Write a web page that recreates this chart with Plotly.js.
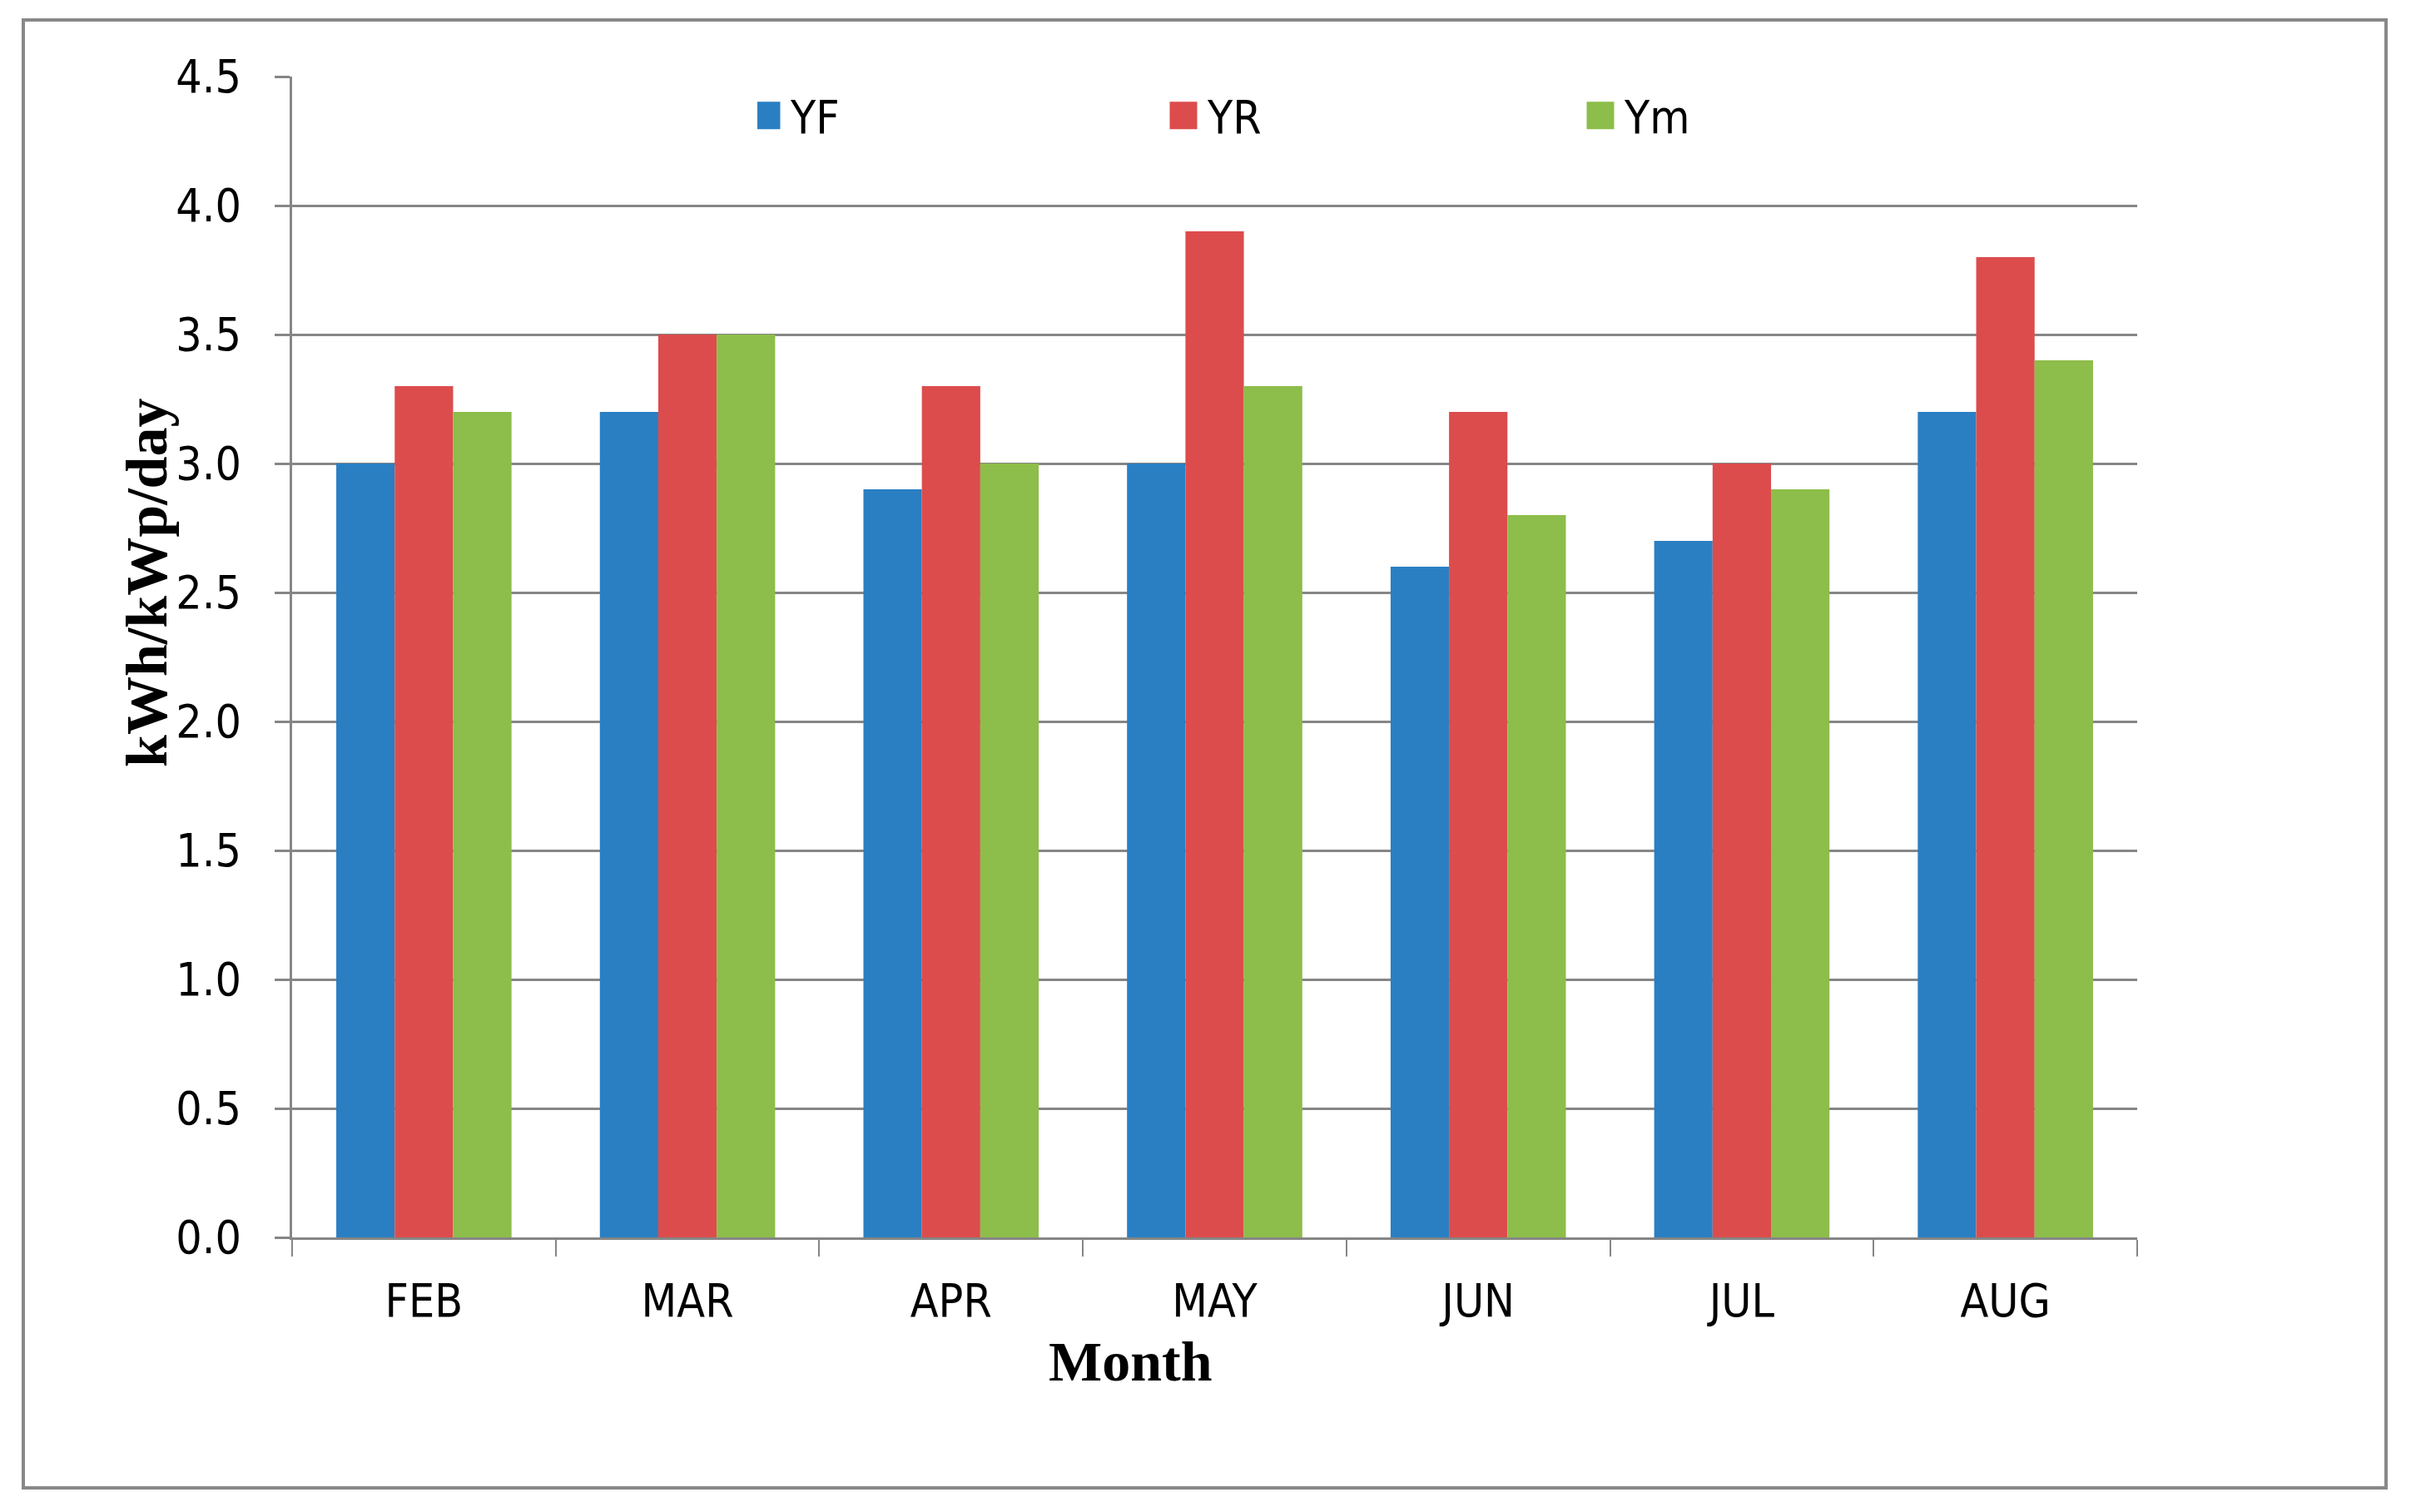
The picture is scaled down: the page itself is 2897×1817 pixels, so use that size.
<!DOCTYPE html>
<html>
<head>
<meta charset="utf-8">
<script src="https://cdn.plot.ly/plotly-3.0.1.min.js"></script>
<style>
html,body{margin:0;padding:0;background:#fff;}
#chart{width:2897px;height:1817px;}
</style>
</head>
<body>
<div id="chart"></div>
<script>
var months = ["FEB","MAR","APR","MAY","JUN","JUL","AUG"];
var seriesNames = ["YF","YR","Ym"];
var YF = [3.0, 3.2, 2.9, 3.0, 2.6, 2.7, 3.2];
var YR = [3.3, 3.5, 3.3, 3.9, 3.2, 3.0, 3.8];
var Ym = [3.2, 3.5, 3.0, 3.3, 2.8, 2.9, 3.4];
var yTicks = [0, 0.5, 1.0, 1.5, 2.0, 2.5, 3.0, 3.5, 4.0, 4.5];
var xTitle = "Month";
var yTitle = "kWh/kWp/day";

var colors = ["#2a7fc2", "#dc4c4c", "#8dbd4a"];
var values = [YF, YR, Ym];
var tickFont = "Liberation Sans Narrow, DejaVu Sans Condensed, Arial Narrow, sans-serif";

var traces = [];
for (var i = 0; i < 3; i++) {
  traces.push({
    type: "bar", x: months, y: values[i], name: seriesNames[i],
    marker: {color: colors[i], line: {width: 0}},
    showlegend: false, hoverinfo: "x+y+name"
  });
}
for (var j = 0; j < 3; j++) {
  traces.push({
    type: "scatter", mode: "markers", x: [null], y: [null], name: seriesNames[j],
    marker: {symbol: "square", size: 16, color: colors[j]},
    showlegend: true
  });
}

var L = 351, R = 2568, T = 92, B = 1487, W = 2897, H = 1817;
var pw = R - L, ph = B - T;
function px(x){ return (x - L) / pw; }
function py(y){ return (B - y) / ph; }

var layout = {
  width: W, height: H,
  paper_bgcolor: "#ffffff", plot_bgcolor: "#ffffff",
  margin: {l: L, r: W - R, t: T, b: H - B, pad: 0},
  showlegend: true,
  barmode: "group", bargap: 0.335, bargroupgap: 0,
  font: {family: tickFont, color: "#000000", size: 55},
  xaxis: {
    type: "category", showgrid: false, showline: true, linecolor: "#868686", linewidth: 3,
    ticks: "outside", tickson: "boundaries", ticklen: 20, tickwidth: 2, tickcolor: "#868686",
    tickfont: {family: tickFont, size: 55, color: "#000"}, ticklabelstandoff: 26,
    zeroline: false, fixedrange: true
  },
  yaxis: {
    range: [0, 4.5], tickvals: yTicks, tickformat: ".1f",
    showgrid: true, gridcolor: "#868686", gridwidth: 3,
    showline: true, linecolor: "#868686", linewidth: 3,
    ticks: "outside", ticklen: 18, tickwidth: 3, tickcolor: "#868686",
    tickfont: {family: tickFont, size: 55, color: "#000"}, ticklabelstandoff: 29,
    zeroline: false, fixedrange: true
  },
  legend: {
    orientation: "h", x: px(910), y: py(139), xanchor: "left", yanchor: "middle",
    entrywidth: 456, entrywidthmode: "pixels", bgcolor: "rgba(0,0,0,0)",
    font: {family: tickFont, size: 55, color: "#000"}, itemclick: false
  },
  annotations: [
    {text: xTitle, xref: "paper", yref: "paper", x: px(1358), y: py(1636),
     xanchor: "center", yanchor: "middle", showarrow: false,
     font: {family: "Liberation Serif, Times New Roman, serif", size: 68, color: "#000", weight: "bold"}},
    {text: yTitle, xref: "paper", yref: "paper", x: px(176), y: py(700),
     xanchor: "center", yanchor: "middle", showarrow: false, textangle: -90,
     font: {family: "Liberation Serif, Times New Roman, serif", size: 70, color: "#000", weight: "bold"}}
  ],
  shapes: [
    {type: "rect", xref: "paper", yref: "paper", x0: px(28), x1: px(2867), y0: py(1788), y1: py(24),
     line: {color: "#888888", width: 4}, fillcolor: "rgba(0,0,0,0)", layer: "below"}
  ]
};

Plotly.newPlot("chart", traces, layout, {displayModeBar: false, staticPlot: true}).then(function(gd){
  // enlarge legend swatches to match the reference's larger square keys
  var pts = gd.querySelectorAll(".legend .legendpoints path.scatterpts");
  pts.forEach(function(p){ p.setAttribute("d", "M7.5,16.5H-25.5V-16.5H7.5Z"); });
});
</script>
</body>
</html>
